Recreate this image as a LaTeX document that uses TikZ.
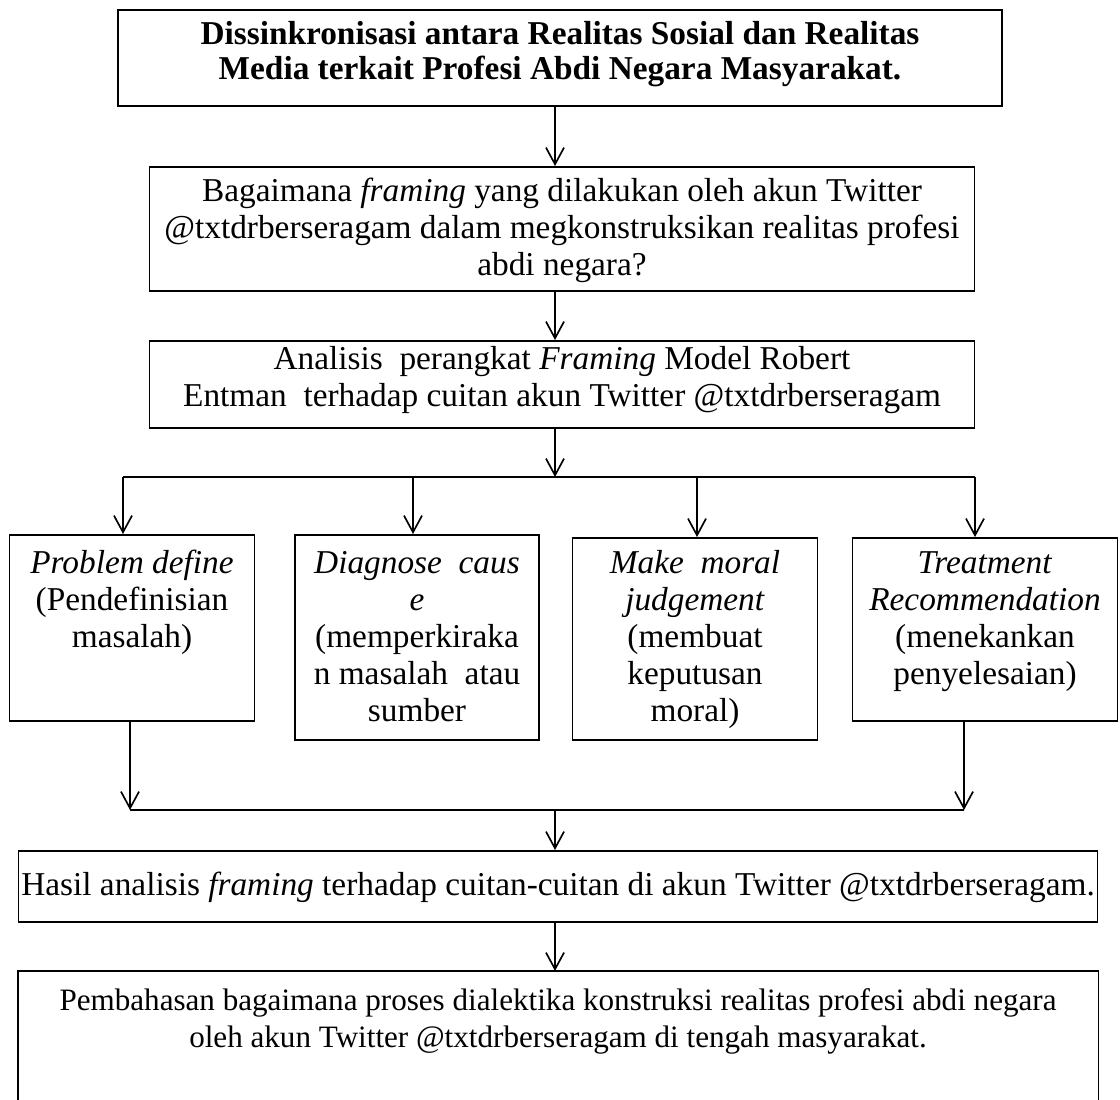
\documentclass[tikz,border=0pt]{standalone}
\usepackage{fontspec}
\setmainfont{Liberation Serif}
\usetikzlibrary{arrows.meta}
\newcommand{\px}[1]{\the\dimexpr0.36pt*#1\relax}
\newcommand{\boxfont}{\fontsize{12pt}{13.3pt}\selectfont}

\begin{document}
\begin{tikzpicture}[x=0.36pt,y=-0.36pt,
    box/.style={draw, semithick, anchor=north, inner sep=0pt, align=flush center, font=\boxfont},
    flow/.style={semithick, -{Straight Barb[length=6pt,width=6.5pt]}}]

      \useasboundingbox (0,0) rectangle (1120,1099);

      \node (title) at (560,9) [box, font=\fontsize{12pt}{12.4pt}\selectfont\bfseries, text width=\px{884}, text height=\px{35}, text depth=\px{61}]
        {Dissinkronisasi antara Realitas Sosial dan Realitas\\Media terkait Profesi Abdi Negara Masyarakat.};
      \node (question) at (562,166) [box, text width=\px{825}, text height=\px{35}, text depth=\px{89}]
        {Bagaimana \textit{framing} yang dilakukan oleh akun Twitter\\@txtdrberseragam dalam megkonstruksikan realitas profesi\\abdi negara?};
      \node (analysis) at (562,340) [box, text width=\px{825}, text height=\px{29}, text depth=\px{58}]
        {Analisis\ \ perangkat \textit{Framing} Model Robert\\Entman\ \ terhadap cuitan akun Twitter @txtdrberseragam};

      \node (problem) at (132,534) [box, text width=\px{245}, text height=\px{39}, text depth=\px{147}]
        {\textit{Problem define}\\(Pendefinisian\\masalah)};
      \node (diagnose) at (417,534) [box, text width=\px{244}, text height=\px{39}, text depth=\px{166}]
        {\textit{Diagnose\ \ caus}\\\textit{e}\\(memperkiraka\\n masalah\ \ atau\\sumber};
      \node (moral) at (695,537) [box, text width=\px{245}, text height=\px{36}, text depth=\px{166}]
        {\textit{Make\ \ moral}\\\textit{judgement}\\(membuat\\keputusan\\moral)};
      \node (treatment) at (985,537) [box, text width=\px{265}, text height=\px{36}, text depth=\px{147}]
        {\textit{Treatment}\\\textit{Recommendation}\\(menekankan\\penyelesaian)};

      \node (result) at (558,850) [box, minimum width=\px{1079}, text height=\px{45}, text depth=\px{26}]
        {Hasil analisis \textit{framing} terhadap cuitan-cuitan di akun Twitter @txtdrberseragam.};
      \node (discussion) at (558,971) [box, draw=none, font=\fontsize{11.2pt}{13.3pt}\selectfont, text width=\px{1079}, text height=\px{39}, text depth=\px{100}]
        {Pembahasan bagaimana proses dialektika konstruksi realitas profesi abdi negara\\oleh akun Twitter @txtdrberseragam di tengah masyarakat.};
      \draw[semithick] (discussion.south west) -- (discussion.north west) -- (discussion.north east) -- (discussion.south east);

      \coordinate (split) at (555,477);
      \coordinate (b1) at (123,477);
      \coordinate (b2) at (413,477);
      \coordinate (b3) at (697,477);
      \coordinate (b4) at (975,477);
      \coordinate (m1) at (130,810);
      \coordinate (m2) at (964,810);
      \coordinate (join) at (555,810);

      \draw[flow] (title.south -| split) -- (question.north -| split);
      \draw[flow] (question.south -| split) -- (analysis.north -| split);
      \draw[flow] (analysis.south -| split) -- (split);
      \draw[semithick] (b1) -- (b4);
      \foreach \b/\n in {b1/problem, b2/diagnose, b3/moral, b4/treatment}
        \draw[flow] (\b) -- (\b |- \n.north);

      \draw[flow] (problem.south -| m1) -- (m1);
      \draw[flow] (treatment.south -| m2) -- (m2);
      \draw[semithick] (m1) -- (m2);
      \draw[flow] (join) -- (result.north -| join);
      \draw[flow] (result.south -| join) -- (discussion.north -| join);

  \end{tikzpicture}
\end{document}
